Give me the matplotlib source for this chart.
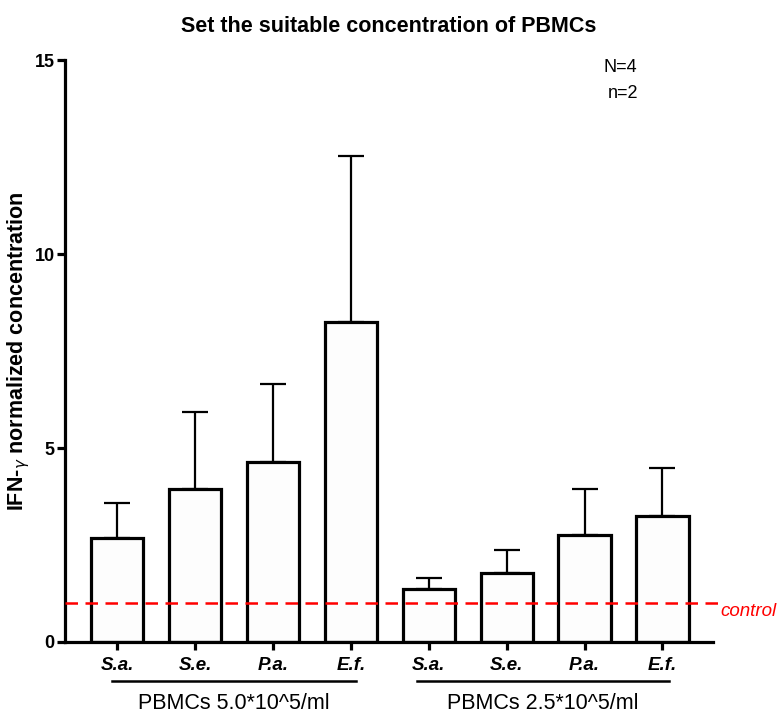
import numpy as np
import matplotlib
matplotlib.use("Agg")
import matplotlib.pyplot as plt

plt.rcParams['font.family'] = ['Liberation Sans', 'DejaVu Sans']

# Data
strains = ["S.a.", "S.e.", "P.a.", "E.f.", "S.a.", "S.e.", "P.a.", "E.f."]
means = [2.67, 3.94, 4.63, 8.24, 1.37, 1.77, 2.77, 3.24]
sem = [0.92, 1.98, 2.02, 4.29, 0.27, 0.60, 1.17, 1.25]
groups = ["PBMCs 5.0*10^5/ml", "PBMCs 2.5*10^5/ml"]
control_level = 1.0

x = np.arange(len(strains))

fig = plt.figure(figsize=(7.78, 7.16), dpi=100)
ax = fig.add_axes([0.0835, 0.1034, 0.833, 0.8126])

ax.bar(x, means, width=0.67, color="#fdfdfd", edgecolor="black", linewidth=2.3,
       yerr=[np.zeros(len(sem)), sem],
       error_kw=dict(ecolor="black", elinewidth=1.6, capsize=9.5, capthick=1.6),
       zorder=2)

# control line
ax.axhline(control_level, xmin=0, xmax=1.01, color="red", linestyle="--",
           linewidth=1.8, dashes=(5, 3), clip_on=False, zorder=3)
ax.text(7.75, control_level, "control", color="red", style="italic",
        fontsize=13.5, ha="left", va="top")

ax.set_xlim(-0.67, 7.65)
ax.set_ylim(0, 15)
ax.set_yticks([0, 5, 10, 15])
ax.set_xticks(x)
ax.set_xticklabels(strains, fontsize=13.5, fontweight="bold", style="italic")
for lab in ax.get_yticklabels():
    lab.set_fontweight("bold")
    lab.set_fontsize(13)

for side in ["top", "right"]:
    ax.spines[side].set_visible(False)
for side in ["left", "bottom"]:
    ax.spines[side].set_linewidth(2.3)
ax.tick_params(axis="both", width=2.3, length=6, direction="out")
ax.tick_params(axis="x", pad=5)
ax.tick_params(axis="y", pad=1.5)

ax.set_ylabel("IFN-$_{\\gamma}$ normalized concentration", fontsize=15.5,
              fontweight="bold")
ax.yaxis.set_label_coords(-0.051, 0.5)
fig.suptitle("Set the suitable concentration of PBMCs", fontsize=15.5,
             fontweight="bold", x=0.5, y=0.978)

ax.text(6.25, 14.8, "N=4", fontsize=13, ha="left", va="center")
ax.text(6.3, 14.15, "n=2", fontsize=13, ha="left", va="center")

# group brackets under the tick labels
trans = ax.get_xaxis_transform()
for g, (x0, x1) in enumerate([(-0.07, 3.06), (3.85, 7.09)]):
    ax.plot([x0, x1], [-0.067, -0.067], transform=trans, color="black",
            linewidth=1.8, clip_on=False)
    ax.text((x0 + x1) / 2, -0.106, groups[g], transform=trans, fontsize=15.5,
            ha="center", va="center")

fig.savefig("out.png", dpi=100)
